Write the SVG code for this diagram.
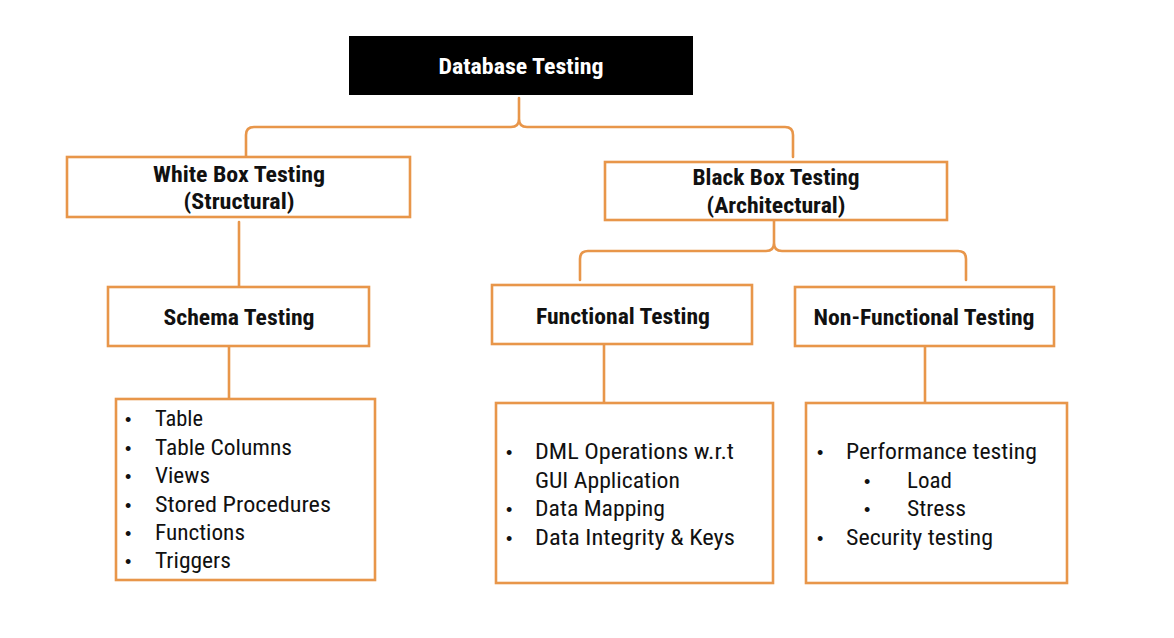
<svg xmlns="http://www.w3.org/2000/svg" width="1174" height="638" viewBox="0 0 1174 638">
<style>
.box{fill:#fff;stroke:#E8964A;stroke-width:2.6}
.ln{fill:none;stroke:#E8964A;stroke-width:2.6;stroke-linecap:round;stroke-linejoin:round}
.t{font-family:"Liberation Sans Narrow","Roboto Condensed","Liberation Sans",sans-serif;font-weight:bold;font-size:22.5px;fill:#111}
.r{font-family:"Liberation Sans Narrow","Roboto Condensed","Liberation Sans",sans-serif;font-size:22px;fill:#111}
.b{font-family:"Liberation Sans",sans-serif;font-size:18px;fill:#111}
</style>
<rect width="1174" height="638" fill="#fff"/>
<g id="connectors">
<path class="ln" d="M246,157 L246,135 Q246,127 254,127 L511,127 Q519,127 519,119 L519,98 Q519,119 519,119 Q519,127 527,127 L785,127 Q793,127 793,135 L793,157"/>
<path class="ln" d="M580,280 L580,259 Q580,251 588,251 L766,251 Q774,251 774,243 L774,221 L774,243 Q774,251 782,251 L958,251 Q966,251 966,259 L966,280"/>
<path class="ln" d="M239,222 L239,287"/>
<path class="ln" d="M229,344 L229,399"/>
<path class="ln" d="M604,345 L604,403"/>
<path class="ln" d="M925,347 L925,403"/>
</g>
<g id="root">
<rect x="349" y="36" width="344" height="59" fill="#000"/>
<text class="t" x="521" y="74" text-anchor="middle" style="fill:#fff" textLength="165" lengthAdjust="spacingAndGlyphs">Database Testing</text>
</g>
<g id="whitebox">
<rect class="box" x="67" y="157" width="343" height="60"/>
<text class="t" x="239" y="182" text-anchor="middle" textLength="172" lengthAdjust="spacingAndGlyphs">White Box Testing</text>
<text class="t" x="239" y="209" text-anchor="middle" textLength="111" lengthAdjust="spacingAndGlyphs">(Structural)</text>
</g>
<g id="blackbox">
<rect class="box" x="605" y="162" width="342" height="58"/>
<text class="t" x="776" y="185" text-anchor="middle" textLength="167" lengthAdjust="spacingAndGlyphs">Black Box Testing</text>
<text class="t" x="776" y="213" text-anchor="middle" textLength="139" lengthAdjust="spacingAndGlyphs">(Architectural)</text>
</g>
<g id="schema">
<rect class="box" x="108" y="287" width="261" height="59"/>
<text class="t" x="239" y="325" text-anchor="middle" textLength="151" lengthAdjust="spacingAndGlyphs">Schema Testing</text>
</g>
<g id="functional">
<rect class="box" x="492" y="285" width="260" height="59"/>
<text class="t" x="623" y="324" text-anchor="middle" textLength="174" lengthAdjust="spacingAndGlyphs">Functional Testing</text>
</g>
<g id="nonfunctional">
<rect class="box" x="795" y="287" width="259" height="59"/>
<text class="t" x="924" y="325" text-anchor="middle" textLength="221" lengthAdjust="spacingAndGlyphs">Non-Functional Testing</text>
</g>
<g id="schema-list">
<rect class="box" x="116" y="399" width="259" height="181"/>
<text class="b" x="125" y="426">•</text><text class="r" x="155" y="426" textLength="48" lengthAdjust="spacingAndGlyphs">Table</text>
<text class="b" x="125" y="455">•</text><text class="r" x="155" y="455" textLength="137" lengthAdjust="spacingAndGlyphs">Table Columns</text>
<text class="b" x="125" y="483">•</text><text class="r" x="155" y="483" textLength="55" lengthAdjust="spacingAndGlyphs">Views</text>
<text class="b" x="125" y="512">•</text><text class="r" x="155" y="512" textLength="176" lengthAdjust="spacingAndGlyphs">Stored Procedures</text>
<text class="b" x="125" y="540">•</text><text class="r" x="155" y="540" textLength="90" lengthAdjust="spacingAndGlyphs">Functions</text>
<text class="b" x="125" y="568">•</text><text class="r" x="155" y="568" textLength="76" lengthAdjust="spacingAndGlyphs">Triggers</text>
</g>
<g id="functional-list">
<rect class="box" x="496" y="403" width="277" height="180"/>
<text class="b" x="506" y="459">•</text><text class="r" x="535" y="459" textLength="199" lengthAdjust="spacingAndGlyphs">DML Operations w.r.t</text>
<text class="r" x="535" y="488" textLength="145" lengthAdjust="spacingAndGlyphs">GUI Application</text>
<text class="b" x="506" y="516">•</text><text class="r" x="535" y="516" textLength="130" lengthAdjust="spacingAndGlyphs">Data Mapping</text>
<text class="b" x="506" y="545">•</text><text class="r" x="535" y="545" textLength="200" lengthAdjust="spacingAndGlyphs">Data Integrity &amp; Keys</text>
</g>
<g id="nonfunctional-list">
<rect class="box" x="806" y="403" width="261" height="180"/>
<text class="b" x="817" y="459">•</text><text class="r" x="846" y="459" textLength="191" lengthAdjust="spacingAndGlyphs">Performance testing</text>
<text class="b" x="864" y="488">•</text><text class="r" x="907" y="488" textLength="45" lengthAdjust="spacingAndGlyphs">Load</text>
<text class="b" x="864" y="516">•</text><text class="r" x="907" y="516" textLength="59" lengthAdjust="spacingAndGlyphs">Stress</text>
<text class="b" x="817" y="545">•</text><text class="r" x="846" y="545" textLength="147" lengthAdjust="spacingAndGlyphs">Security testing</text>
</g>
</svg>
